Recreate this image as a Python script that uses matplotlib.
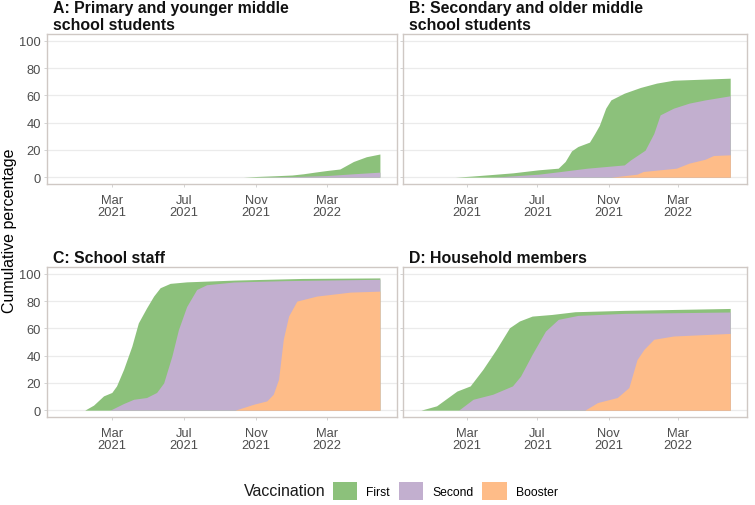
import numpy as np
import pandas as pd
import matplotlib
matplotlib.use('Agg')
import matplotlib.pyplot as plt
from matplotlib.patches import Patch

plt.rcParams['font.family'] = ['Liberation Sans', 'DejaVu Sans']

titles = ['A: Primary and younger middle\nschool students',
          'B: Secondary and older middle\nschool students',
          'C: School staff',
          'D: Household members']
doses = ['First', 'Second', 'Booster']
colors = ['#8CC17B', '#C2AFCF', '#FEBC88']

# values: (date, cumulative %)
a_first_d = ['2021-10-10', '2021-11-01', '2021-12-01', '2022-01-01', '2022-01-20', '2022-02-10', '2022-03-01',
             '2022-03-23', '2022-04-15', '2022-05-07', '2022-05-30']
a_first_v = [0, 0.5, 1.0, 1.6, 2.5, 3.8, 4.9, 6.0, 11.5, 15.0, 17.0]
a_second_d = ['2021-11-01', '2022-01-01', '2022-03-01', '2022-04-15', '2022-05-30']
a_second_v = [0, 0.4, 1.2, 2.5, 3.7]
a_booster_d = ['2022-05-30']
a_booster_v = [0]

b_first_d = ['2021-02-09', '2021-03-10', '2021-04-15', '2021-05-20', '2021-07-03', '2021-08-06', '2021-08-18',
             '2021-08-29', '2021-09-09', '2021-09-29', '2021-10-08', '2021-10-16', '2021-10-27', '2021-11-05',
             '2021-11-28', '2021-12-26', '2022-01-23', '2022-02-21', '2022-05-30']
b_first_v = [0, 0.8, 2.0, 3.2, 5.4, 6.6, 11.5, 19.3, 22.5, 25.7, 32.0, 38.0, 50.6, 56.7, 61.6, 65.8, 69.0,
             71.1, 72.6]
b_second_d = ['2021-04-15', '2021-07-03', '2021-08-11', '2021-09-25', '2021-11-28', '2021-12-09', '2022-01-03',
              '2022-01-18', '2022-01-29', '2022-02-21', '2022-03-20', '2022-04-17', '2022-05-30']
b_second_v = [0, 2.2, 4.2, 6.6, 9.0, 12.7, 19.8, 32.0, 45.7, 50.6, 54.3, 56.7, 59.7]
b_booster_d = ['2021-11-05', '2021-12-20', '2021-12-31', '2022-02-26', '2022-03-05', '2022-03-20', '2022-04-17',
               '2022-05-01', '2022-05-30']
b_booster_v = [0, 2.2, 4.2, 6.6, 7.8, 10.3, 13.2, 15.9, 16.4]

c_first_d = ['2021-01-14', '2021-01-29', '2021-02-15', '2021-03-01', '2021-03-09', '2021-03-21', '2021-04-04',
             '2021-04-15', '2021-04-29', '2021-05-11', '2021-05-22', '2021-06-08', '2021-07-06', '2021-09-25',
             '2022-01-18', '2022-05-30']
c_first_v = [0, 3.7, 10.5, 13.0, 17.8, 30.0, 47.0, 64.0, 75.0, 83.7, 89.8, 93.0, 94.1, 95.4, 96.6, 97.0]
c_second_d = ['2021-02-26', '2021-03-21', '2021-04-07', '2021-04-29', '2021-05-16', '2021-05-28', '2021-06-11',
              '2021-06-22', '2021-07-06', '2021-07-23', '2021-08-09', '2021-09-24', '2021-12-20', '2022-05-30']
c_second_v = [0, 4.9, 8.0, 9.3, 13.0, 20.0, 39.8, 59.0, 76.0, 88.5, 92.0, 94.0, 95.0, 96.0]
c_booster_d = ['2021-09-26', '2021-10-28', '2021-11-19', '2021-11-30', '2021-12-09', '2021-12-17', '2021-12-26',
               '2022-01-09', '2022-02-12', '2022-04-10', '2022-05-30']
c_booster_v = [0, 4.4, 6.8, 11.7, 22.7, 52.0, 69.0, 80.0, 83.7, 86.6, 87.3]

d_first_d = ['2020-12-12', '2021-01-08', '2021-02-12', '2021-03-07', '2021-03-29', '2021-04-21', '2021-05-14',
             '2021-05-31', '2021-06-22', '2021-07-26', '2021-09-04', '2021-11-28', '2022-05-30']
d_first_v = [0, 3.2, 14.0, 17.8, 30.0, 44.6, 60.5, 65.4, 69.0, 70.2, 72.2, 73.2, 74.6]
d_second_d = ['2021-02-15', '2021-03-12', '2021-04-15', '2021-05-19', '2021-06-02', '2021-06-22', '2021-07-15',
              '2021-08-06', '2021-09-09', '2021-11-28', '2022-05-30']
d_second_v = [0, 8.0, 11.7, 17.8, 25.0, 41.0, 58.0, 66.6, 69.5, 71.0, 72.0]
d_booster_d = ['2021-09-21', '2021-10-13', '2021-11-16', '2021-12-06', '2021-12-20', '2022-01-01', '2022-01-18',
               '2022-02-21', '2022-05-30']
d_booster_v = [0, 5.6, 9.3, 16.6, 37.0, 44.6, 52.0, 54.4, 56.3]

panels = [
    [(a_first_d, a_first_v), (a_second_d, a_second_v), (a_booster_d, a_booster_v)],
    [(b_first_d, b_first_v), (b_second_d, b_second_v), (b_booster_d, b_booster_v)],
    [(c_first_d, c_first_v), (c_second_d, c_second_v), (c_booster_d, c_booster_v)],
    [(d_first_d, d_first_v), (d_second_d, d_second_v), (d_booster_d, d_booster_v)],
]

tick_dates = pd.to_datetime(['2021-03-01', '2021-07-01', '2021-11-01', '2022-03-01'])
tick_labels = ['Mar\n2021', 'Jul\n2021', 'Nov\n2021', 'Mar\n2022']

W, H = 755, 506
fig = plt.figure(figsize=(W / 100, H / 100), dpi=100)

# panel boxes in pixels: left, right, top, bottom
boxes = [(47, 397, 35, 185), (403, 747, 35, 185), (47, 397, 268, 418), (403, 747, 268, 418)]

x0 = pd.Timestamp('2020-11-11')
x1 = pd.Timestamp('2022-06-28')

for i, (l, r, t, b) in enumerate(boxes):
    ax = fig.add_axes([l / W, 1 - b / H, (r - l) / W, (b - t) / H])
    for (d, v), c in zip(panels[i], colors):
        dd = pd.to_datetime(d)
        ax.fill_between(dd, 0, v, color=c, lw=0)
    ax.set_xlim(x0, x1)
    ax.set_ylim(-5, 105)
    ax.set_yticks([0, 20, 40, 60, 80, 100])
    ax.set_xticks(tick_dates)
    ax.set_xticklabels(tick_labels, linespacing=1.05)
    if i % 2 == 1:
        ax.set_yticklabels([])
    ax.grid(axis='y', color='#ebebeb', lw=0.9)
    ax.set_axisbelow(True)
    ax.tick_params(length=2.5, width=0.6, color='#cccccc', labelsize=9.3, labelcolor='#4d4d4d', pad=2)
    ax.tick_params(axis='x', pad=4.5)
    for s in ax.spines.values():
        s.set_color('#cfc8c4')
        s.set_linewidth(1.0)
    fig.text((l + 6) / W, 1 - (t - 5) / H, titles[i], ha='left', va='baseline', fontsize=11.4,
             fontweight='bold', linespacing=1.15, color='#111111')

fig.text(10 / W, 1 - 231 / H, 'Cumulative percentage', rotation=90, ha='center', va='center', fontsize=11.5)

fig.text(244 / W, 1 - 492 / H, 'Vaccination', ha='left', va='center', fontsize=11.5, color='#1a1a1a')
handles = [Patch(facecolor=c, edgecolor='none') for c in colors]
fig.legend(handles, doses, ncol=3, loc='center left', bbox_to_anchor=(333 / W, 1 - 492 / H),
           frameon=False, fontsize=8.7, handlelength=2.0, handleheight=2.0,
           handletextpad=0.75, columnspacing=0.75, borderpad=0, borderaxespad=0)

fig.savefig('out.png', dpi=100)
